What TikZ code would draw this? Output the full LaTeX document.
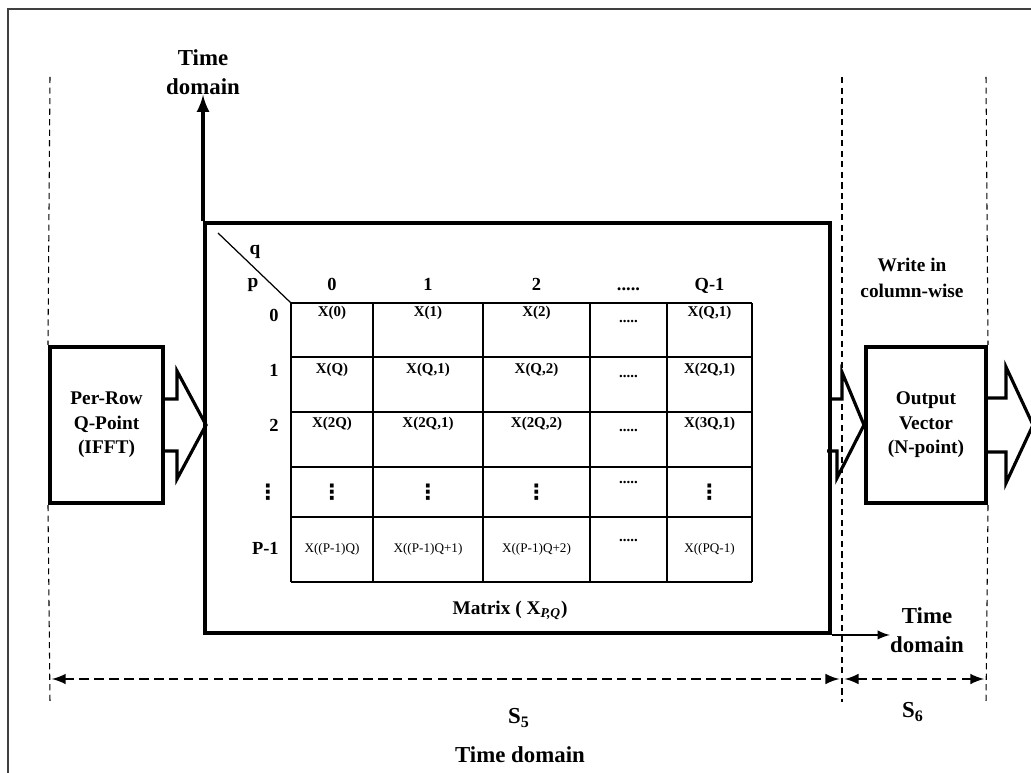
\documentclass[tikz,border=0pt]{standalone}
\usepackage{fontspec}
\setmainfont{Liberation Serif}
\newfontfamily\symfont{DejaVu Sans}
\usetikzlibrary{arrows}
\usetikzlibrary{math}

\newcommand\vdts{{\symfont\fontsize{12}{12}\selectfont ⋮}}
\newcommand\fdots{.....}

\tikzset{
  thickbox/.style={draw, line width=2.3pt, inner sep=0pt},
  blockbox/.style={thickbox, align=center, font=\bfseries\fontsize{11}{14}\selectfont},
  blockarrow/.style={line width=1.8pt},
  guide/.style={line width=0.6pt, dash pattern=on 3.5pt off 2.5pt},
  spanarrow/.style={latex-latex, line width=1.7pt, dash pattern=on 5.5pt off 3pt},
  gridline/.style={line width=0.7pt},
  celltxt/.style={font=\bfseries\fontsize{8.5}{10}\selectfont, inner sep=0pt},
  smalltxt/.style={font=\fontsize{7.5}{9}\selectfont, inner sep=0pt},
  headtxt/.style={font=\bfseries\fontsize{10.5}{12}\selectfont, inner sep=0pt},
  bigtxt/.style={font=\bfseries\fontsize{13}{16.5}\selectfont, align=center, inner sep=0pt},
  labeltxt/.style={font=\bfseries\fontsize{11}{15}\selectfont, align=center, inner sep=0pt}
}

\begin{document}
\begin{tikzpicture}[x=0.02cm, y=-0.02cm]

\tikzmath{
\xa = 50;   %dashed guides
\xb = 842;
\xc = 986;
\ytop = 77;
\ybot = 702;
\yspan = 679; %S5, S6 arrows
}

\clip (0,0) rectangle (1031,773);

%frame
\draw[line width=0.9pt, black!75] (8,9) rectangle (1045,790);

%blocks:
\node[thickbox, minimum width=12.5cm, minimum height=8.2cm] (mat) at (517.5,428) {};
\node[blockbox, minimum width=2.26cm, minimum height=3.12cm] (ifft) at (106.5,425) {Per-Row\\Q-Point\\(IFFT)};
\node[blockbox, minimum width=2.4cm, minimum height=3.12cm] (outv) at (926,425) {Output\\Vector\\(N-point)};

%block arrows
\draw[blockarrow] (ifft.east) ++(0,-26) -- ++(12,0) -- ++(0,-28) -- ++(29,54) -- ++(-29,54) -- ++(0,-28) -- ++(-12,0);
\draw[blockarrow] (mat.east |- outv.west) ++(0,-26) -- ++(10,0) -- ++(0,-27) -- (outv.west) -- ++(-27,53) -- ++(0,-27) -- ++(-10,0);
\draw[blockarrow] (outv.east) ++(0,-27) -- ++(18,0) -- ++(0,-31) -- ++(27,58) -- ++(-27,58) -- ++(0,-31) -- ++(-18,0);

%time axes
\node[bigtxt] (tdup) at (203,72) {Time\\domain};
\node[bigtxt] (tdright) at (927,630) {Time\\domain};
\draw[-latex, line width=2.3pt] (mat.north west) -- (mat.north west |- tdup.south);
\draw[-latex, line width=1.4pt] (mat.south east) -- (mat.south east -| tdright.west);

\node[labeltxt] (write) at (912,278) {Write in\\column-wise};

%dashed guides
\draw[guide] (\xa,\ytop) -- (ifft.north west);
\draw[guide] (ifft.south west) -- (\xa,\ybot);
\draw[guide] (\xb,\ytop) -- (\xb,\ybot);
\draw[guide] (\xc,\ytop) -- (outv.north east);
\draw[guide] (outv.south east) -- (\xc,\ybot);

\coordinate (sl) at (\xa,\yspan);
\coordinate (sm) at (\xb,\yspan);
\coordinate (sr) at (\xc,\yspan);
\draw[spanarrow, shorten <=1pt, shorten >=1.5pt] (sl) -- (sm);
\draw[spanarrow, shorten <=1.5pt, shorten >=1pt] (sm) -- (sr);

\node[bigtxt] (s5) at (519,718) {S\textsubscript{5}};
\node[bigtxt] (s6) at (913,712) {S\textsubscript{6}};
\node[bigtxt] (tdbot) at (520,755) {Time domain};

%matrix grid
\foreach \x in {291,373,483,590,667,752}
  \draw[gridline] (\x,303) -- (\x,582);
\foreach \y in {303,357,412,467,517,582}
  \draw[gridline] (291,\y) -- (752,\y);
\draw[gridline] (218,233) -- (291,303);

\node[labeltxt] (qlbl) at (255,252) {q};
\node[labeltxt] (plbl) at (253,285) {p};

%column and row labels
\foreach \cx/\t [count=\i] in {332/0, 428/1, 536.5/2, 628.5/\fdots, 709.5/Q-1}
  \node[headtxt, anchor=base] (colh\i) at (\cx,291) {\t};
\foreach \y/\t [count=\i] in {315/0, 370/1, 425/2, 548/P-1}
  \node[headtxt, anchor=east] (rowh\i) at (279,\y) {\t};
\node[headtxt] (rowhd) at (268,492) {\vdts};

%cells
\foreach \cx/\t [count=\i] in {332/X(0), 428/X(1), 536.5/X(2), 709.5/{X(Q,1)}}
  \node[celltxt] (xa\i) at (\cx,313) {\t};
\foreach \cx/\t [count=\i] in {332/X(Q), 428/{X(Q,1)}, 536.5/{X(Q,2)}, 709.5/{X(2Q,1)}}
  \node[celltxt] (xb\i) at (\cx,370) {\t};
\foreach \cx/\t [count=\i] in {332/X(2Q), 428/{X(2Q,1)}, 536.5/{X(2Q,2)}, 709.5/{X(3Q,1)}}
  \node[celltxt] (xc\i) at (\cx,424) {\t};
\foreach \cx [count=\i] in {332, 428, 536.5, 709.5}
  \node[celltxt] (xd\i) at (\cx,492) {\vdts};
\foreach \cx/\t [count=\i] in {332/X((P-1)Q), 428/X((P-1)Q+1), 536.5/X((P-1)Q+2), 709.5/X((PQ-1)}
  \node[smalltxt] (xe\i) at (\cx,549) {\t};
\foreach \y [count=\i] in {322,377,430,483,540}
  \node[celltxt] (dots\i) at (628.5,\y) {\fdots};

\node[labeltxt] (matlbl) at (510,610) {Matrix ( X\textsubscript{\textit{P,Q}})};

\end{tikzpicture}
\end{document}
